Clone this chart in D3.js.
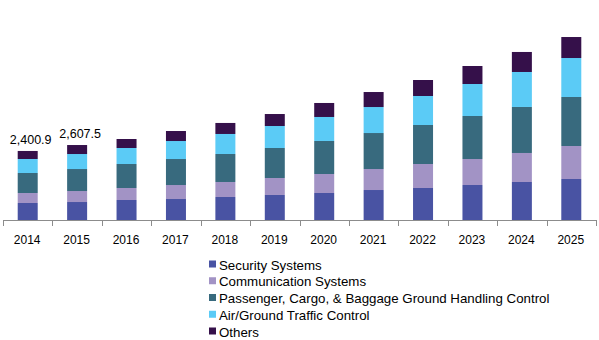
<!DOCTYPE html>
<html>
<head>
<meta charset="utf-8">
<script src="https://cdn.jsdelivr.net/npm/d3@7"></script>
<style>
  body { margin: 0; background: #fff; }
  text { font-family: "Liberation Sans", Arial, sans-serif; fill: #000; }
</style>
</head>
<body>
<div class="graph-container"></div>
<script>
const width = 599,
    height = 340;

// years on the x axis
const years = ["2014", "2015", "2016", "2017", "2018", "2019", "2020", "2021", "2022", "2023", "2024", "2025"];

// segment values per year (USD million)
const security      = [591.3, 625.5, 696, 730, 800, 870, 939, 1043, 1113, 1217, 1322, 1426];
const communication = [347.8, 382.5, 417, 487, 522, 591, 661, 730, 835, 904, 1009, 1148];
const passenger     = [695.6, 765, 835, 904, 974, 1043, 1148, 1252, 1356, 1496, 1600, 1704];
const airGround     = [486.9, 521.5, 556, 626, 696, 765, 835, 904, 1009, 1113, 1217, 1356];
const others        = [279.3, 313, 313, 348, 383, 417, 487, 522, 556, 626, 696, 730];

const seriesNames = [
    "Security Systems",
    "Communication Systems",
    "Passenger, Cargo, & Baggage Ground Handling Control",
    "Air/Ground Traffic Control",
    "Others"
];
const colors = ["#4953a3", "#a293c5", "#386a7e", "#5bcbf6", "#35104a"];

// years that get a total label
const labelled = ["2014", "2015"];

const table = years.map((yr, i) => ({
    year: yr,
    [seriesNames[0]]: security[i],
    [seriesNames[1]]: communication[i],
    [seriesNames[2]]: passenger[i],
    [seriesNames[3]]: airGround[i],
    [seriesNames[4]]: others[i]
}));

const stack = d3.stack().keys(seriesNames);
const layers = stack(table);

const svg = d3.select(".graph-container")
    .append("svg")
    .attr("width", width)
    .attr("height", height);

const x = d3.scaleBand()
    .domain(years)
    .range([3, 596]);

const y = d3.scaleLinear()
    .domain([0, 6956])
    .range([220, 20]);

const color = d3.scaleOrdinal()
    .domain(seriesNames)
    .range(colors);

const barW = 20;

svg.append("g")
    .selectAll("g")
    .data(layers)
    .join("g")
    .attr("fill", d => color(d.key))
    .selectAll("rect")
    .data(d => d)
    .join("rect")
    .attr("x", d => x(d.data.year) + (x.bandwidth() - barW) / 2)
    .attr("width", barW)
    .attr("y", d => y(d[1]))
    .attr("height", d => y(d[0]) - y(d[1]));

// axis line with ticks on the category edges
const axis = svg.append("g").attr("stroke", "#8c8c8c").attr("stroke-width", 1);
axis.append("line")
    .attr("x1", x.range()[0]).attr("x2", x.range()[1])
    .attr("y1", 220.5).attr("y2", 220.5);

const edges = years.map(d => x(d)).concat([x.range()[1]]);
axis.selectAll(".tick")
    .data(edges)
    .join("line")
    .attr("class", "tick")
    .attr("x1", d => Math.round(d) + 0.5).attr("x2", d => Math.round(d) + 0.5)
    .attr("y1", 220).attr("y2", 226);

svg.append("g")
    .selectAll("text")
    .data(years)
    .join("text")
    .attr("x", d => x(d) + x.bandwidth() / 2 - 0.5)
    .attr("y", 243.5)
    .attr("text-anchor", "middle")
    .style("font-size", "12px")
    .text(d => d);

// totals above the first bars
const fmt = d3.format(",.1f");
svg.append("g")
    .selectAll("text")
    .data(table.filter(d => labelled.includes(d.year)))
    .join("text")
    .attr("x", d => x(d.year) + x.bandwidth() / 2 + 3)
    .attr("y", d => y(d3.sum(seriesNames, k => d[k])) - 7)
    .attr("text-anchor", "middle")
    .style("font-size", "12.5px")
    .text(d => fmt(d3.sum(seriesNames, k => d[k])));

// legend
const legend = svg.append("g")
    .selectAll("g")
    .data(seriesNames)
    .join("g")
    .attr("transform", (d, i) => `translate(209, ${264.5 + i * 16.75})`);

legend.append("rect")
    .attr("x", 0)
    .attr("y", -4)
    .attr("width", 7)
    .attr("height", 7)
    .attr("fill", d => color(d));

legend.append("text")
    .attr("x", 10)
    .attr("y", 5)
    .style("font-size", "13.3px")
    .text(d => d);
</script>
</body>
</html>
